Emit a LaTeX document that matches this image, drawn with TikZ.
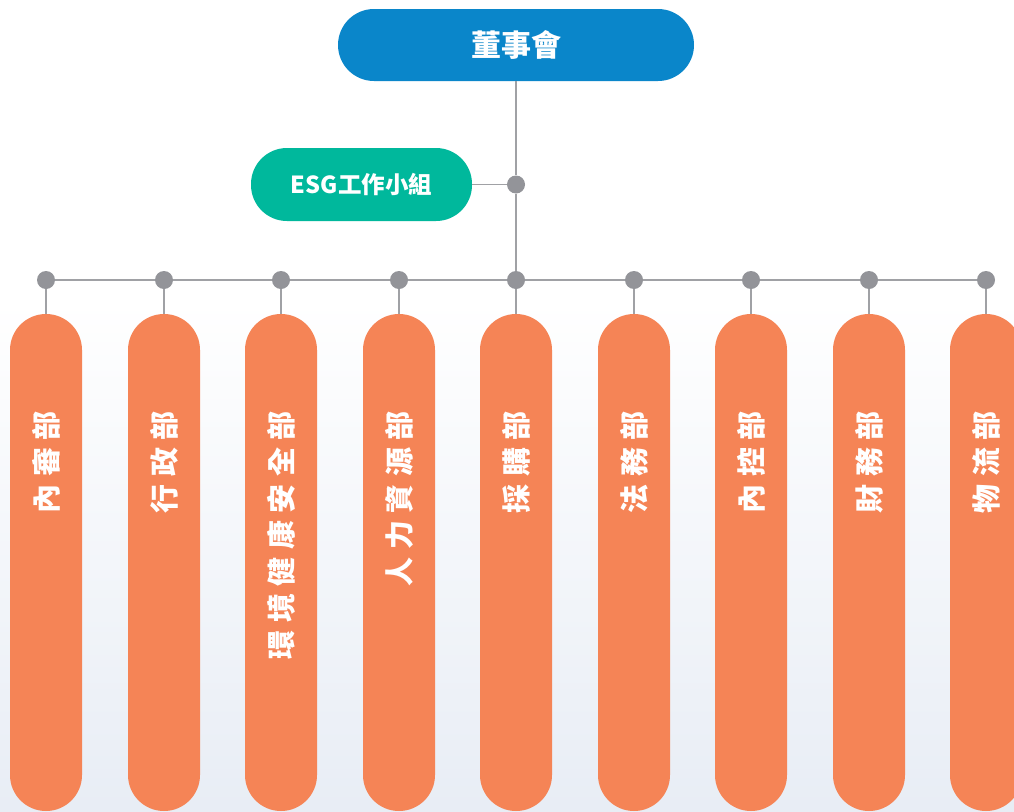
\documentclass[tikz,border=0pt]{standalone}
\usepackage{fontspec}
\newfontfamily\cjk{Noto Sans CJK TC}
\definecolor{boardblue}{HTML}{0A86CA}
\definecolor{esgteal}{HTML}{00B89C}
\definecolor{deptorange}{HTML}{F58456}
\definecolor{linegrey}{HTML}{A0A1A5}
\definecolor{dotgrey}{HTML}{939499}
\definecolor{bgbottom}{HTML}{E8EDF5}
\newcommand\cgap{\hspace{7.5pt}}
\tikzset{
  topbox/.style={shape=rectangle, rounded corners=36pt, minimum width=356pt, minimum height=72pt, fill=boardblue, text=white, inner sep=0pt, font=\cjk\bfseries\fontsize{30}{30}\selectfont},
  esgbox/.style={shape=rectangle, rounded corners=36pt, minimum width=221pt, minimum height=73pt, fill=esgteal, text=white, inner sep=0pt, font=\cjk\bfseries\fontsize{23.5}{23.5}\selectfont},
  pill/.style={shape=rectangle, rounded corners=36pt, minimum width=72pt, minimum height=497pt, fill=deptorange, draw=none, inner sep=0pt},
  ptext/.style={rotate=90, anchor=east, inner sep=0pt, text=white, font=\cjk\bfseries\fontsize{29}{29}\selectfont},
  dot/.style={shape=circle, fill=dotgrey, inner sep=0pt, minimum size=18pt},
  link/.style={draw=linegrey, line width=1.5pt},
}
\begin{document}
\begin{tikzpicture}[x=1pt,y=-1pt]
\useasboundingbox (0,0) rectangle (1014,811);
\clip (0,0) rectangle (1014,811);
\fill[white] (0,0) rectangle (1014,300);
\shade[top color=white, bottom color=bgbottom] (0,299) rectangle (1014,811);

% top nodes
\node[topbox] (board) at (516,45) {董事會};
\node[esgbox] (esg) at (361.5,184.5) {ESG工作小組};
\node[dot] (desg) at (516,184.5) {};

% department pills and dots
\foreach \i/\x/\t in {1/46/{內\cgap 審\cgap 部},
                      2/164/{行\cgap 政\cgap 部},
                      3/281/{環\cgap 境\cgap 健\cgap 康\cgap 安\cgap 全\cgap 部},
                      4/399/{人\cgap 力\cgap 資\cgap 源\cgap 部},
                      5/516/{採\cgap 購\cgap 部},
                      6/634/{法\cgap 務\cgap 部},
                      7/751/{內\cgap 控\cgap 部},
                      8/869/{財\cgap 務\cgap 部},
                      9/986/{物\cgap 流\cgap 部}} {
  \node[pill] (p\i) at (\x,562.5) {};
  \node[ptext] (t\i) at (\x,411) {\t};
  \node[dot] (d\i) at (\x,280) {};
}

% connectors
\draw[link] (board) -- (desg);
\draw[link] (esg) -- (desg);
\draw[link] (desg) -- (d5);
\foreach \a/\b in {1/2,2/3,3/4,4/5,5/6,6/7,7/8,8/9} {
  \draw[link] (d\a) -- (d\b);
}
\foreach \i in {1,...,9} {
  \draw[link] (d\i) -- (p\i);
}
\end{tikzpicture}
\end{document}
